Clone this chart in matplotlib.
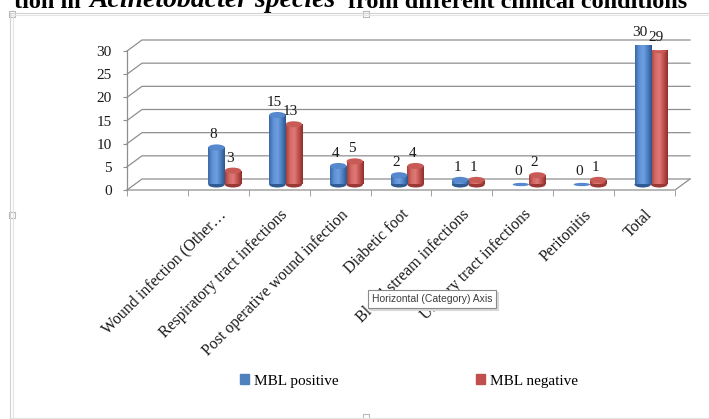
import numpy as np
import matplotlib
matplotlib.use("Agg")
import matplotlib.pyplot as plt
from matplotlib.patches import Ellipse, Patch, Rectangle
from matplotlib.lines import Line2D
from matplotlib.colors import LinearSegmentedColormap

categories = ["Wound infection (Other…", "Respiratory tract infections",
              "Post operative wound infection", "Diabetic foot",
              "Blood stream infections", "Urinary tract infections",
              "Peritonitis", "Total"]
mbl_positive = [8, 15, 4, 2, 1, 0, 0, 30]
mbl_negative = [3, 13, 5, 4, 1, 2, 1, 29]
series_names = ["MBL positive", "MBL negative"]
y_ticks = [0, 5, 10, 15, 20, 25, 30]

W, H = 709, 419
plt.rcParams['font.family'] = ['Liberation Serif', 'DejaVu Serif']
fig = plt.figure(figsize=(W / 100, H / 100), dpi=100)
fig.patch.set_facecolor('white')

# front face of the 3d box (pixels)
fx0, fx1, fy0, fy1 = 127, 675, 190, 51
ax = fig.add_axes([fx0 / W, 1 - fy0 / H, (fx1 - fx0) / W, (fy0 - fy1) / H])
n_slots = len(categories) + 1   # first slot is empty in the original
ymax = y_ticks[-1]
for s in ax.spines.values():
    s.set_visible(False)
ax.patch.set_alpha(0)

depth_x = 15 / (fx1 - fx0) * n_slots
depth_y = 11 / (fy0 - fy1) * ymax
grid_c = '#8f8f8f'

# back wall gridlines with the little side diagonals
for v in y_ticks:
    ax.plot([0, depth_x, n_slots + depth_x], [v, v + depth_y, v + depth_y],
            color=grid_c, lw=0.9, clip_on=False, zorder=1)
ax.plot([0, 0], [0, ymax], color=grid_c, lw=0.9, clip_on=False, zorder=1)
ax.plot([0, n_slots, n_slots + depth_x], [0, 0, depth_y],
        color=grid_c, lw=0.9, clip_on=False, zorder=1)

# cylinders
blue_cmap = LinearSegmentedColormap.from_list(
    'b', ['#3b69a6', '#5e91d6', '#6f9fe0', '#4c7fc0', '#2d568c'])
red_cmap = LinearSegmentedColormap.from_list(
    'r', ['#a83f3c', '#d36a66', '#de7a76', '#c0504d', '#8c2f2d'])
grad = np.linspace(0, 1, 64).reshape(1, -1)

bar_w = 0.27
base = depth_y / 2
centers = np.arange(len(categories)) + 1.5
pair_c = centers + 0.105
cap_h = 1.3


def draw_series(xs, vals, cmap, top_col, bot_col, z):
    bars = ax.bar(xs, vals, width=bar_w, bottom=base, color=cmap(0.5),
                  linewidth=0, zorder=z)
    for rect, x, v in zip(bars, xs, vals):
        if v > 0:
            im = ax.imshow(grad, cmap=cmap, aspect='auto', zorder=z,
                           extent=[x - bar_w / 2, x + bar_w / 2, base, base + v])
            im.set_clip_path(rect)
            ax.add_patch(Ellipse((x, base), bar_w, cap_h, color=bot_col,
                                 zorder=z - 0.1, lw=0))
            ax.add_patch(Ellipse((x, base + v), bar_w, cap_h, color=top_col,
                                 zorder=z + 0.1, lw=0))
        else:
            ax.add_patch(Ellipse((x, base), bar_w, cap_h * 0.55, color=top_col,
                                 zorder=z + 0.1, lw=0))
        ax.text(x - 0.05, base + v + 2.7, str(v), ha='center', va='center',
                fontsize=11, color='#1a1a1a', zorder=6)


draw_series(pair_c + 0.135, mbl_negative, red_cmap, '#c95b57', '#9a3835', 3)
draw_series(pair_c - 0.135, mbl_positive, blue_cmap, '#5588cc', '#2f5a92', 4)

ax.set_xlim(0, n_slots)
ax.set_ylim(0, ymax)
ax.set_yticks(y_ticks)
ax.tick_params(axis='y', length=3, color=grid_c, pad=8, labelsize=11,
               labelcolor='#1a1a1a')
ax.set_xticks(np.arange(n_slots + 1), minor=True)
ax.tick_params(axis='x', which='minor', length=4, color=grid_c)
ax.set_xticks(centers)
ax.set_xticklabels(categories, rotation=45, ha='right', rotation_mode='anchor',
                   fontsize=11.5, color='#1a1a1a')
ax.tick_params(axis='x', which='major', length=0, pad=12)

# legend
handles = [Patch(color='#4f81bd'), Patch(color='#c0504d')]
fig.legend(handles, series_names, loc='center', ncol=2,
           bbox_to_anchor=(409 / W, 1 - 381 / H), frameon=False, fontsize=11,
           handlelength=0.6, handleheight=0.6, handletextpad=0.3,
           columnspacing=9.0)

# title (only its lower part is visible in the original, justified line)
t1 = fig.text(687 / W, 1 - 8 / H, "from different clinical conditions",
              ha='right', va='baseline', fontsize=17.5, weight='bold')
t2 = ax.annotate("Acinetobacter species", xy=(0, 0), xycoords=t1,
                 xytext=(-9, 0), textcoords='offset points', ha='right',
                 va='bottom', fontsize=20, weight='bold', style='italic',
                 annotation_clip=False)
ax.annotate("tion in", xy=(0, 0), xycoords=t2, xytext=(-6, 0),
            textcoords='offset points', ha='right', va='bottom', fontsize=17.5,
            weight='bold', annotation_clip=False)

# chart frame and selection handles
frame_c = '#d2d2d2'
fig.add_artist(Line2D([11 / W, 1], [1 - 13 / H, 1 - 13 / H], color=frame_c, lw=0.8))
fig.add_artist(Line2D([11 / W, 1], [1 - 15 / H, 1 - 15 / H], color='#e4e4e4', lw=0.8))
fig.add_artist(Line2D([10 / W, 10 / W], [0, 1 - 13 / H], color=frame_c, lw=0.8))
fig.add_artist(Line2D([13 / W, 13 / W], [0, 1 - 15 / H], color='#e4e4e4', lw=0.8))
fig.add_artist(Line2D([11 / W, 1], [1.5 / H, 1.5 / H], color='#e4e4e4', lw=0.8))
for hx, hy in [(12, 14), (366, 14), (12, 215), (366, 417)]:
    fig.add_artist(Rectangle(((hx - 3) / W, 1 - (hy + 3) / H), 6 / W, 6 / H,
                             fc='white', ec='#b8b8b8', lw=0.8))

# tooltip with a soft shadow
fig.text(374 / W, 1 - 301 / H, "Horizontal (Category) Axis", family='Liberation Sans',
         fontsize=7.5, color='#d8d8d8', va='center', zorder=9,
         bbox=dict(boxstyle='square,pad=0.35', fc='#d8d8d8', ec='#d8d8d8', lw=0.8))
fig.text(372 / W, 1 - 299 / H, "Horizontal (Category) Axis", family='Liberation Sans',
         fontsize=7.5, color='#3c3c3c', va='center', zorder=10,
         bbox=dict(boxstyle='square,pad=0.35', fc='white', ec='#8a8a8a', lw=0.8))

fig.savefig('out.png', dpi=100, facecolor='white')
